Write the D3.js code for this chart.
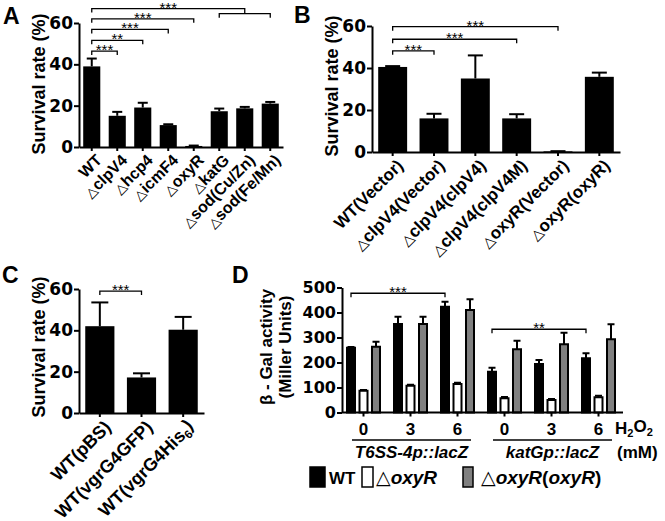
<!DOCTYPE html>
<html>
<head>
<meta charset="utf-8">
<script src="https://cdn.jsdelivr.net/npm/d3@7/dist/d3.min.js"></script>
<style>
body { margin: 0; background: #fff; }
</style>
</head>
<body>
<script>
// panel A: survival of deletion mutants
var catsA = ["WT", "△clpV4", "△hcp4", "△icmF4", "△oxyR", "△katG", "△sod(Cu/Zn)", "△sod(Fe/Mn)"];
var survA = [39, 15.1, 19.1, 10.6, 0.5, 17.3, 18.7, 21];
var sdA = [3.8, 1.9, 2.3, 0.4, 0.2, 1.3, 0.7, 0.8];
// panel B: complementation
var catsB = ["WT(Vector)", "△clpV4(Vector)", "△clpV4(clpV4)", "△clpV4(clpV4M)", "△oxyR(Vector)", "△oxyR(oxyR)"];
var survB = [40.5, 16, 35, 16, 0.3, 35.8];
var sdB = [0.4, 2.2, 11, 2, 0.1, 2];
// panel C: vgrG4 tags
var catsC = ["WT(pBS)", "WT(vgrG4GFP)", "WT(vgrG4His₆)"];
var survC = [42, 17.2, 40.3];
var sdC = [11.5, 2, 6.2];
var survTicks = [0, 20, 40, 60];
// panel D: beta-gal reporter activity
var doseD = ["0", "3", "6", "0", "3", "6"];
var reporterD = ["T6SS-4p::lacZ", "katGp::lacZ"];
var strainD = ["WT", "△oxyR", "△oxyR(oxyR)"];
var galWT = [259, 354, 423, 163, 194, 217];
var sdWT = [3, 29, 20, 16, 16, 20];
var galOxyR = [87, 107, 114, 57, 50, 61];
var sdOxyR = [3, 4, 5, 5, 4, 6];
var galComp = [263, 354, 410, 253, 273, 293];
var sdComp = [20, 29, 43, 34, 46, 60];
var galTicks = [0, 100, 200, 300, 400, 500];

var SANS = "'Liberation Sans', Arial, Helvetica, sans-serif";
var WIDE = "'DejaVu Sans', sans-serif";

var svg = d3.select("body").append("svg")
    .attr("width", 665).attr("height", 521)
    .style("font-family", SANS);

// label text: a leading △ is thin, ₆ is a subscript, gene names can be italic
function richLabel(text, label, italic, triSize) {
    var rest = label;
    if (rest.charAt(0) === "△") {
        text.append("tspan").text("△")
            .style("font-family", WIDE).style("font-weight", "normal")
            .style("font-size", (triSize || 0.85) + "em");
        rest = rest.slice(1);
    }
    var bits = rest.split("₆");
    if (italic) {
        bits[0].split(/(oxyR)/).forEach(function(s){
            if (!s) return;
            var t = text.append("tspan").text(s);
            if (s === "oxyR") t.style("font-style", "italic");
        });
    } else {
        text.append("tspan").text(bits[0]);
    }
    if (bits.length > 1) {
        text.append("tspan").text("6").style("font-size", "0.65em").attr("dy", "0.3em");
        text.append("tspan").text(bits[1]).attr("dy", "-0.3em");
    }
}

function styleAxis(a, fs) {
    a.selectAll("path, line").attr("stroke", "#000").attr("stroke-width", 2);
    a.selectAll("text").attr("fill", "#000")
        .style("font-family", WIDE).style("font-weight", "bold").style("font-size", fs + "px");
}

function bracket(g, xa, xb, yv, label, dropL, dropR) {
    var p = d3.path();
    p.moveTo(xa, yv + dropL); p.lineTo(xa, yv); p.lineTo(xb, yv); p.lineTo(xb, yv + dropR);
    g.append("path").attr("d", p.toString()).attr("fill", "none")
        .attr("stroke", "#000").attr("stroke-width", 1.3);
    if (label) {
        g.append("text").attr("x", (xa + xb) / 2).attr("y", yv + 4)
            .attr("text-anchor", "middle").style("font-size", "15px").text(label);
    }
}

function whiskers(g, rows, cx, y, cap) {
    g.selectAll(null).data(rows).enter().append("line")
        .attr("x1", cx).attr("x2", cx)
        .attr("y1", function(d){ return y(d.v); })
        .attr("y2", function(d){ return y(d.v + d.e); })
        .attr("stroke", "#000").attr("stroke-width", 2);
    g.selectAll(null).data(rows).enter().append("line")
        .attr("x1", function(d){ return cx(d) - cap / 2; })
        .attr("x2", function(d){ return cx(d) + cap / 2; })
        .attr("y1", function(d){ return y(d.v + d.e); })
        .attr("y2", function(d){ return y(d.v + d.e); })
        .attr("stroke", "#000").attr("stroke-width", 2);
}

function survivalPanel(p) {
    var g = svg.append("g");
    var x = d3.scaleBand().domain(p.cats).range(p.xr)
        .paddingInner(p.pad).paddingOuter(p.pad / 2);
    var y = d3.scaleLinear().domain([0, 60]).range(p.yr);
    var rows = p.cats.map(function(c, i){ return {c: c, v: p.vals[i], e: p.sd[i]}; });
    var cx = function(d){ return x(d.c) + x.bandwidth() / 2; };

    g.selectAll(null).data(rows).enter().append("rect")
        .attr("x", function(d){ return x(d.c); })
        .attr("width", x.bandwidth())
        .attr("y", function(d){ return y(d.v); })
        .attr("height", function(d){ return y(0) - y(d.v); })
        .attr("fill", "#000");
    whiskers(g, rows, cx, y, p.cap);

    var ya = g.append("g").attr("transform", "translate(" + p.xr[0] + ",0)")
        .call(d3.axisLeft(y).tickValues(survTicks).tickSize(5).tickSizeOuter(0).tickPadding(1));
    styleAxis(ya, 17);
    var xa = g.append("g").attr("transform", "translate(0," + p.yr[0] + ")")
        .call(d3.axisBottom(x).tickSize(4).tickSizeOuter(0).tickFormat(""));
    styleAxis(xa, 17);

    g.selectAll(null).data(p.cats).enter().append("text")
        .attr("transform", function(c){
            return "translate(" + (x(c) + x.bandwidth() / 2 + 3) + "," + (p.yr[0] + 6) + ") rotate(-45)";
        })
        .attr("text-anchor", "end").attr("dy", "0.72em")
        .style("font-size", p.labelSize + "px").style("font-weight", "bold")
        .each(function(c){ richLabel(d3.select(this), c, false); });

    g.append("text")
        .attr("transform", "translate(" + p.titleX + "," + p.titleY + ") rotate(-90)")
        .attr("text-anchor", "middle").style("font-size", "18px").style("font-weight", "bold")
        .text("Survival rate (%)");
    g.append("text").attr("x", p.letter[1]).attr("y", p.letter[2])
        .style("font-size", "23px").style("font-weight", "bold").text(p.letter[0]);

    return {g: g, x: function(c){ return x(c) + x.bandwidth() / 2; }, y: y};
}

// ---- A ----
var A = survivalPanel({cats: catsA, vals: survA, sd: sdA, xr: [79, 283], yr: [147, 23],
    pad: 0.33, cap: 10, labelSize: 16, titleX: 45, titleY: 84, letter: ["A", 3, 24]});
bracket(A.g, A.x(catsA[0]), A.x(catsA[1]), A.y(46.4), "***", 4, 4);
bracket(A.g, A.x(catsA[0]), A.x(catsA[2]), A.y(51.6), "**", 4, 4);
bracket(A.g, A.x(catsA[0]), A.x(catsA[3]), A.y(56.9), "***", 4, 4);
bracket(A.g, A.x(catsA[0]), A.x(catsA[4]), A.y(62), "***", 4, 4);
bracket(A.g, A.x(catsA[0]), A.x(catsA[6]), A.y(67), "***", 4, A.y(64.5) - A.y(67));
bracket(A.g, A.x(catsA[5]), A.x(catsA[7]), A.y(64.5), "", 4, 4);

// ---- B ----
var B = survivalPanel({cats: catsB, vals: survB, sd: sdB, xr: [372, 620], yr: [152, 26],
    pad: 0.3, cap: 15, labelSize: 17, titleX: 338, titleY: 86, letter: ["B", 294, 23]});
bracket(B.g, B.x(catsB[0]), B.x(catsB[1]), B.y(48.2), "***", 4, 4);
bracket(B.g, B.x(catsB[0]), B.x(catsB[3]), B.y(53.7), "***", 4, 4);
bracket(B.g, B.x(catsB[0]), B.x(catsB[4]), B.y(59.7), "***", 4, 4);

// ---- C ----
var C = survivalPanel({cats: catsC, vals: survC, sd: sdC, xr: [79, 204], yr: [413, 289],
    pad: 0.3, cap: 17, labelSize: 18, titleX: 45, titleY: 347, letter: ["C", 2, 283]});
bracket(C.g, C.x(catsC[0]), C.x(catsC[1]), C.y(59), "***", 4, 4);

// ---- D ----
var gD = svg.append("g");
var x0 = d3.scaleBand().domain(d3.range(doseD.length)).range([340, 622]);
var x1 = d3.scaleBand().domain(strainD).range([6, 41]).paddingInner(0.2);
var yD = d3.scaleLinear().domain([0, 500]).range([412.5, 287.5]);
var seriesD = [
    {s: strainD[0], v: galWT, e: sdWT, fill: "#000"},
    {s: strainD[1], v: galOxyR, e: sdOxyR, fill: "#fff"},
    {s: strainD[2], v: galComp, e: sdComp, fill: "#808080"}
];
seriesD.forEach(function(ser){
    var rows = doseD.map(function(d, i){ return {i: i, v: ser.v[i], e: ser.e[i]}; });
    var cx = function(d){ return x0(d.i) + x1(ser.s) + x1.bandwidth() / 2; };
    whiskers(gD, rows, cx, yD, 7);
    gD.selectAll(null).data(rows).enter().append("rect")
        .attr("x", function(d){ return x0(d.i) + x1(ser.s) + 1; })
        .attr("width", x1.bandwidth() - 2)
        .attr("y", function(d){ return yD(d.v); })
        .attr("height", function(d){ return yD(0) - yD(d.v); })
        .attr("fill", ser.fill).attr("stroke", "#000").attr("stroke-width", 2);
});
var yaD = gD.append("g").attr("transform", "translate(342,0)")
    .call(d3.axisLeft(yD).tickValues(galTicks).tickSize(5).tickSizeOuter(0).tickPadding(1));
styleAxis(yaD, 16);
var xaD = gD.append("g").attr("transform", "translate(0," + yD(0) + ")")
    .call(d3.axisBottom(x0).tickSize(4).tickSizeOuter(0).tickPadding(6.5)
        .tickFormat(function(i){ return doseD[i]; }));
styleAxis(xaD, 17);
xaD.selectAll("text").style("font-family", SANS);
xaD.select(".domain").attr("d", "M342,0H623");

reporterD.forEach(function(r, k){
    var xa = x0(k * 3) + 12, xb = x0(k * 3 + 2) + x0.bandwidth() - 10;
    gD.append("line").attr("x1", xa).attr("x2", xb).attr("y1", 440).attr("y2", 440)
        .attr("stroke", "#000").attr("stroke-width", 1.5);
    gD.append("text").attr("x", (xa + xb) / 2).attr("y", 458).attr("text-anchor", "middle")
        .style("font-size", "17px").style("font-weight", "bold").style("font-style", "italic").text(r);
});
var h2o2 = gD.append("text").attr("x", 615).attr("y", 434)
    .style("font-size", "17px").style("font-weight", "bold");
h2o2.append("tspan").text("H");
h2o2.append("tspan").text("2").style("font-size", "0.65em").attr("dy", "0.3em");
h2o2.append("tspan").text("O").attr("dy", "-0.3em");
h2o2.append("tspan").text("2").style("font-size", "0.65em").attr("dy", "0.3em");
gD.append("text").attr("x", 617).attr("y", 458)
    .style("font-size", "17px").style("font-weight", "bold").text("(mM)");

gD.append("text").attr("transform", "translate(272,347) rotate(-90)").attr("text-anchor", "middle")
    .style("font-size", "17px").style("font-weight", "bold").text("β - Gal activity");
gD.append("text").attr("transform", "translate(291,347) rotate(-90)").attr("text-anchor", "middle")
    .style("font-size", "17px").style("font-weight", "bold").text("(Miller Units)");
gD.append("text").attr("x", 232).attr("y", 283)
    .style("font-size", "23px").style("font-weight", "bold").text("D");

var cWT = function(i){ return x0(i) + x1(strainD[0]) + x1.bandwidth() / 2; };
bracket(gD, cWT(0), cWT(2), yD(477), "***", 4, 4);
bracket(gD, cWT(3), cWT(5), yD(333), "**", 4, 4);

// legend
var legX = [310, 362, 463];
var legW = [15, 11, 10];
var legT = [329, 376, 481];
var legSize = [17, 19, 19];
seriesD.forEach(function(ser, k){
    gD.append("rect").attr("x", legX[k]).attr("y", 467).attr("width", legW[k]).attr("height", 20)
        .attr("fill", ser.fill).attr("stroke", "#000").attr("stroke-width", 1.5);
    var t = gD.append("text").attr("x", legT[k]).attr("y", 484)
        .style("font-size", legSize[k] + "px").style("font-weight", "bold");
    richLabel(t, ser.s, true, 1);
});
</script>
</body>
</html>
